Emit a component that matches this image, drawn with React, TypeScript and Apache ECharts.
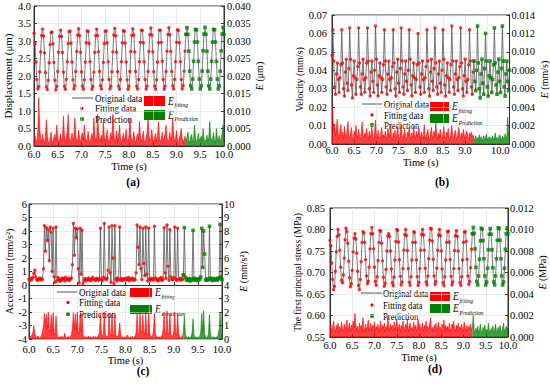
import { useEffect, useRef } from 'react';
import * as echarts from 'echarts';

const T0 = 6.0;
const STEP = 0.02;
const SPLIT_T = 9.2;

const DISPLACEMENT = [
  3.22, 2.93, 2.40, 1.90, 1.63, 1.70, 2.12, 2.69, 3.16, 3.34, 3.14, 2.66, 2.10, 1.69, 1.61, 1.88, 2.38, 2.90, 3.24,
  3.26, 2.92, 2.39, 1.88, 1.60, 1.70, 2.13, 2.68, 3.14, 3.31, 3.13, 2.67, 2.11, 1.70, 1.62, 1.90, 2.41, 2.93, 3.27,
  3.28, 2.94, 2.40, 1.89, 1.63, 1.72, 2.13, 2.70, 3.17, 3.35, 3.15, 2.68, 2.12, 1.71, 1.62, 1.89, 2.40, 2.95, 3.29,
  3.27, 2.93, 2.41, 1.90, 1.62, 1.70, 2.11, 2.67, 3.15, 3.34, 3.16, 2.69, 2.13, 1.72, 1.63, 1.89, 2.39, 2.93, 3.28,
  3.29, 2.95, 2.41, 1.90, 1.63, 1.71, 2.12, 2.69, 3.17, 3.36, 3.15, 2.68, 2.12, 1.71, 1.62, 1.90, 2.41, 2.95, 3.30,
  3.28, 2.94, 2.40, 1.89, 1.62, 1.71, 2.13, 2.70, 3.16, 3.35, 3.17, 2.69, 2.13, 1.71, 1.63, 1.90, 2.41, 2.96, 3.31,
  3.30, 2.95, 2.41, 1.90, 1.63, 1.71, 2.13, 2.70, 3.18, 3.37, 3.17, 2.69, 2.12, 1.71, 1.62, 1.89, 2.40, 2.95, 3.31,
  3.31, 2.96, 2.42, 1.90, 1.62, 1.71, 2.13, 2.71, 3.19, 3.38, 3.18, 2.70, 2.13, 1.72, 1.63, 1.90, 2.41, 2.96, 3.32,
  3.30, 2.95, 2.41, 1.90, 1.63, 1.72, 2.14, 2.71, 3.19, 3.38, 3.19, 2.71, 2.14, 1.72, 1.63, 1.91, 2.42, 2.97, 3.33,
  3.32, 2.97, 2.42, 1.91, 1.63, 1.72, 2.14, 2.72, 3.20, 3.39, 3.19, 2.71, 2.14, 1.72, 1.63, 1.91, 2.42, 2.97, 3.33,
  3.32, 2.97, 2.42, 1.91, 1.63, 1.72, 2.14, 2.72, 3.20, 3.39, 3.19,
];

const E_DISPLACEMENT = [
  0.0012, 0.0030, 0.0018, 0.0009, 0.0041, 0.0138, 0.0052, 0.0021, 0.0011, 0.0034, 0.0015, 0.0008, 0.0027, 0.0075, 0.0031, 0.0012, 0.0006, 0.0022, 0.0040, 0.0014,
  0.0009, 0.0025, 0.0033, 0.0016, 0.0060, 0.0023, 0.0010, 0.0019, 0.0035, 0.0012, 0.0028, 0.0085, 0.0030, 0.0011, 0.0024, 0.0043, 0.0090, 0.0026, 0.0013, 0.0021,
  0.0037, 0.0015, 0.0029, 0.0080, 0.0032, 0.0010, 0.0018, 0.0045, 0.0022, 0.0009, 0.0027, 0.0038, 0.0016, 0.0060, 0.0025, 0.0011, 0.0020, 0.0042, 0.0017, 0.0008,
  0.0024, 0.0036, 0.0015, 0.0080, 0.0033, 0.0012, 0.0026, 0.0090, 0.0041, 0.0014, 0.0019, 0.0031, 0.0010, 0.0070, 0.0028, 0.0013, 0.0022, 0.0046, 0.0018, 0.0009,
  0.0025, 0.0039, 0.0016, 0.0090, 0.0034, 0.0012, 0.0021, 0.0044, 0.0015, 0.0027, 0.0060, 0.0023, 0.0010, 0.0018, 0.0037, 0.0014, 0.0026, 0.0048, 0.0019, 0.0011,
  0.0030, 0.0080, 0.0027, 0.0013, 0.0020, 0.0041, 0.0016, 0.0009, 0.0024, 0.0035, 0.0018, 0.0070, 0.0029, 0.0012, 0.0021, 0.0043, 0.0015, 0.0010, 0.0026, 0.0038,
  0.0080, 0.0031, 0.0014, 0.0022, 0.0047, 0.0017, 0.0010, 0.0025, 0.0036, 0.0013, 0.0028, 0.0070, 0.0026, 0.0011, 0.0019, 0.0040, 0.0016, 0.0023, 0.0035, 0.0060,
  0.0024, 0.0012, 0.0018, 0.0039, 0.0015, 0.0027, 0.0080, 0.0030, 0.0013, 0.0021, 0.0044, 0.0017, 0.0009, 0.0023, 0.0032, 0.0050, 0.0020, 0.0011, 0.0018, 0.0028,
  0.0014, 0.0022, 0.0040, 0.0016, 0.0010, 0.0025, 0.0033, 0.0012, 0.0019, 0.0060, 0.0024, 0.0011, 0.0017, 0.0036, 0.0014, 0.0021, 0.0028, 0.0013, 0.0050, 0.0020,
  0.0010, 0.0018, 0.0031, 0.0015, 0.0024, 0.0070, 0.0027, 0.0012, 0.0020, 0.0038, 0.0014, 0.0009, 0.0050, 0.0022, 0.0016, 0.0029, 0.0013, 0.0019, 0.0034, 0.0060,
  0.0021,
];

const VELOCITY = [
  0.048, 0.062,
  0.045, 0.031, 0.027, 0.038, 0.044, 0.035, 0.028, 0.036, 0.043, 0.062,
  0.044, 0.030, 0.026, 0.039, 0.046, 0.033, 0.029, 0.041, 0.063,
  0.046, 0.032, 0.025, 0.037, 0.045, 0.036, 0.027, 0.035, 0.042, 0.063,
  0.044, 0.031, 0.027, 0.038, 0.046, 0.035, 0.028, 0.036, 0.044, 0.063,
  0.045, 0.030, 0.026, 0.039, 0.045, 0.034, 0.028, 0.040, 0.064,
  0.046, 0.032, 0.026, 0.037, 0.044, 0.036, 0.028, 0.035, 0.043, 0.062,
  0.045, 0.031, 0.027, 0.038, 0.045, 0.035, 0.029, 0.036, 0.042, 0.062,
  0.044, 0.030, 0.026, 0.039, 0.046, 0.033, 0.028, 0.041, 0.063,
  0.045, 0.031, 0.027, 0.038, 0.045, 0.034, 0.029, 0.040, 0.062,
  0.046, 0.032, 0.026, 0.037, 0.044, 0.036, 0.028, 0.035, 0.043, 0.060,
  0.044, 0.031, 0.027, 0.038, 0.045, 0.035, 0.028, 0.036, 0.042, 0.062,
  0.045, 0.030, 0.026, 0.039, 0.046, 0.034, 0.029, 0.041, 0.063,
  0.044, 0.031, 0.027, 0.038, 0.045, 0.033, 0.028, 0.040, 0.062,
  0.046, 0.032, 0.026, 0.037, 0.044, 0.036, 0.028, 0.035, 0.043, 0.064,
  0.045, 0.031, 0.027, 0.038, 0.045, 0.035, 0.029, 0.036, 0.042, 0.063,
  0.044, 0.030, 0.026, 0.037, 0.046, 0.034, 0.028, 0.035, 0.043, 0.062,
  0.045, 0.031, 0.027, 0.039, 0.045, 0.034, 0.029, 0.040, 0.064,
  0.044, 0.030, 0.025, 0.038, 0.046, 0.033, 0.027, 0.041, 0.060,
  0.045, 0.031, 0.026, 0.037, 0.045, 0.036, 0.028, 0.035, 0.043, 0.063,
  0.044, 0.032, 0.027, 0.039, 0.046, 0.034, 0.028, 0.041, 0.064,
  0.045, 0.031, 0.026, 0.038, 0.045, 0.034, 0.029, 0.040,
];

const E_VELOCITY = [
  0.0045, 0.0032, 0.0014, 0.0022, 0.0009, 0.0018, 0.0027, 0.0011, 0.0006, 0.0015, 0.0021, 0.0008, 0.0013, 0.0005, 0.0019, 0.0010, 0.0007, 0.0016, 0.0024, 0.0009,
  0.0006, 0.0012, 0.0018, 0.0007, 0.0004, 0.0014, 0.0009, 0.0020, 0.0011, 0.0006, 0.0016, 0.0008, 0.0005, 0.0013, 0.0024, 0.0010, 0.0006, 0.0012, 0.0008, 0.0017,
  0.0009, 0.0005, 0.0014, 0.0007, 0.0011, 0.0019, 0.0008, 0.0004, 0.0013, 0.0026, 0.0010, 0.0006, 0.0015, 0.0008, 0.0005, 0.0012, 0.0018, 0.0007, 0.0010, 0.0006,
  0.0014, 0.0009, 0.0005, 0.0017, 0.0011, 0.0007, 0.0022, 0.0009, 0.0004, 0.0012, 0.0008, 0.0015, 0.0006, 0.0010, 0.0019, 0.0008, 0.0005, 0.0013, 0.0021, 0.0009,
  0.0006, 0.0011, 0.0016, 0.0007, 0.0004, 0.0013, 0.0009, 0.0018, 0.0010, 0.0005, 0.0012, 0.0007, 0.0020, 0.0009, 0.0006, 0.0014, 0.0008, 0.0011, 0.0017, 0.0006,
  0.0009, 0.0013, 0.0005, 0.0010, 0.0021, 0.0008, 0.0006, 0.0012, 0.0016, 0.0007, 0.0004, 0.0011, 0.0018, 0.0009, 0.0006, 0.0014, 0.0008, 0.0023, 0.0010, 0.0005,
  0.0012, 0.0007, 0.0016, 0.0009, 0.0005, 0.0011, 0.0019, 0.0008, 0.0006, 0.0013, 0.0010, 0.0017, 0.0007, 0.0004, 0.0012, 0.0020, 0.0009, 0.0006, 0.0011, 0.0015,
  0.0008, 0.0005, 0.0013, 0.0018, 0.0009, 0.0006, 0.0012, 0.0007, 0.0016, 0.0010, 0.0005, 0.0011, 0.0014, 0.0008, 0.0006, 0.0012, 0.0009, 0.0013, 0.0007, 0.0010,
  0.0004, 0.0006, 0.0009, 0.0003, 0.0007, 0.0005, 0.0010, 0.0004, 0.0008, 0.0006, 0.0003, 0.0009, 0.0005, 0.0007, 0.0011, 0.0004, 0.0006, 0.0008, 0.0003, 0.0007,
  0.0005, 0.0009, 0.0004, 0.0006, 0.0012, 0.0005, 0.0007, 0.0003, 0.0008, 0.0010, 0.0006, 0.0004, 0.0009, 0.0007, 0.0005, 0.0011, 0.0008, 0.0006, 0.0029, 0.0012,
  0.0007,
];

const ACCELERATION = [
  0.42, 0.35, 0.50, 0.38, 0.55, 0.85, 1.10, 0.60, 0.40, 0.33, 0.45, 0.52, 0.36, 0.48, 0.40, 1.20, 4.40, 2.50, 4.25, 3.30,
  4.10, 1.80, 4.30, 3.90, 1.00, 4.20, 0.60, 0.20, 4.30, 0.30, 0.55, 0.40, 0.28, 0.47, 0.35, 0.52, 0.44, 0.30, 0.58, 0.41,
  0.38, 0.50, 0.33, 0.45, 0.52, 1.50, 4.55, 2.20, 4.20, 3.50, 4.15, 1.20, 0.15, 4.20, 0.80, 4.05, 0.10, 0.35, 0.48, 0.30,
  0.45, 0.36, 0.52, 0.40, 0.31, 0.47, 0.55, 0.38, 0.43, 0.33, 0.50, 0.41, 0.36, 0.48, 4.20, 0.40, 0.32, 0.55, 4.55, 0.45,
  0.38, 0.50, 1.10, 4.30, 0.90, 0.20, 4.40, 2.00, 0.10, 4.40, 0.45, 0.30, 0.52, 0.40, 4.30, 0.35, 0.48, 0.33, 0.44, 0.39,
  0.50, 0.36, 0.42, 0.55, 0.31, 0.46, 0.40, 0.52, 0.35, 0.44, 0.38, 0.90, 4.45, 2.80, 1.50, 4.30, 1.20, 0.40, 4.20, 1.60,
  0.70, 4.30, 0.80, 0.30, 4.20, 0.45, 0.35, 0.50, 0.41, 0.38, 4.35, 0.52, 0.36, 0.44, 0.30, 0.47, 0.40, 0.55, 0.33, 0.42,
  4.25, 0.90, 0.50, 4.45, 1.40, 0.35, 4.10, 0.60, 0.42, 0.38, 0.55, 4.30, 0.45, 0.33, 4.20, 0.40, 0.48, 0.36, 0.51, 0.39,
  0.75, 4.25, 0.55, 0.40, 0.35, 0.48, 0.42, 0.30, 0.45, 0.38, 4.05, 0.50, 0.36, 0.44, 0.40, 0.33, 0.47, 0.41, 0.60, 4.20,
  1.30, 4.00, 2.30, 0.40, 0.35, 0.46, 0.38, 4.35, 0.50, 0.42, 0.33, 0.48, 0.37, 0.44, 0.40, 0.36, 0.52, 0.45, 4.50, 0.60,
  0.40,
];

const E_ACCELERATION = [
  0.12, 0.20, 0.15, 0.30, 0.45, 1.00, 0.40, 0.18, 0.10, 0.22, 0.14, 0.08, 0.16, 0.25, 0.60, 0.90, 1.90, 1.20, 1.85, 0.70,
  2.00, 0.80, 0.50, 1.80, 0.60, 1.95, 0.45, 0.30, 1.70, 0.35, 0.15, 0.10, 0.18, 0.12, 0.22, 0.09, 0.14, 0.42, 0.16, 0.11,
  0.13, 0.20, 0.10, 0.17, 0.35, 0.80, 1.95, 0.70, 1.85, 0.60, 2.00, 0.55, 0.40, 1.80, 0.50, 1.90, 0.30, 0.15, 0.12, 0.19,
  0.10, 0.14, 0.22, 0.11, 0.16, 0.09, 0.13, 0.20, 0.12, 0.18, 0.10, 0.15, 0.25, 0.50, 1.80, 0.40, 0.20, 0.35, 2.00, 0.45,
  0.18, 0.12, 0.30, 1.90, 0.40, 0.22, 1.85, 0.35, 0.18, 1.80, 0.30, 0.14, 0.20, 0.45, 1.20, 0.30, 0.12, 0.17, 0.10, 0.15,
  0.11, 0.18, 0.30, 0.13, 0.09, 0.16, 0.12, 0.20, 0.10, 0.14, 0.22, 0.50, 1.85, 0.40, 0.35, 1.95, 0.60, 0.45, 1.80, 0.50,
  0.35, 2.00, 0.40, 0.30, 1.85, 0.45, 0.20, 0.15, 0.25, 0.60, 1.90, 0.35, 0.14, 0.18, 0.11, 0.16, 0.12, 0.20, 0.30, 0.70,
  1.95, 0.50, 0.40, 2.10, 0.45, 0.35, 1.90, 0.40, 0.18, 0.25, 0.55, 2.00, 0.45, 0.30, 1.85, 0.40, 0.15, 0.12, 0.18, 0.10,
  0.60, 1.70, 0.35, 0.15, 0.10, 0.18, 0.12, 0.09, 0.20, 0.45, 1.50, 0.30, 0.14, 0.11, 0.16, 0.10, 0.13, 0.20, 0.55, 1.90,
  0.50, 2.10, 0.40, 0.15, 0.12, 0.18, 0.40, 1.80, 0.35, 0.14, 0.10, 0.16, 0.12, 0.09, 0.15, 0.11, 0.30, 0.70, 1.90, 0.40,
  0.15,
];

const STRESS = [
  0.775, 0.762, 0.722, 0.684, 0.660, 0.668, 0.703, 0.748, 0.784, 0.800, 0.788, 0.752, 0.712, 0.682, 0.676, 0.694, 0.733, 0.776, 0.803,
  0.795, 0.768, 0.726, 0.688, 0.667, 0.674, 0.705, 0.748, 0.780, 0.790, 0.778, 0.745, 0.703, 0.670, 0.660, 0.684, 0.725, 0.770, 0.795,
  0.792, 0.770, 0.730, 0.692, 0.674, 0.680, 0.712, 0.755, 0.790, 0.805, 0.790, 0.755, 0.712, 0.679, 0.670, 0.690, 0.728, 0.770, 0.798,
  0.796, 0.768, 0.727, 0.689, 0.668, 0.675, 0.707, 0.750, 0.785, 0.790, 0.784, 0.750, 0.708, 0.676, 0.669, 0.689, 0.729, 0.772, 0.800,
  0.798, 0.771, 0.730, 0.691, 0.671, 0.678, 0.709, 0.752, 0.788, 0.800, 0.786, 0.751, 0.709, 0.677, 0.670, 0.690, 0.729, 0.770, 0.795,
  0.793, 0.770, 0.729, 0.690, 0.670, 0.677, 0.709, 0.752, 0.789, 0.800, 0.787, 0.752, 0.710, 0.678, 0.671, 0.692, 0.732, 0.775, 0.803,
  0.801, 0.773, 0.731, 0.692, 0.672, 0.679, 0.710, 0.752, 0.787, 0.800, 0.786, 0.750, 0.708, 0.676, 0.669, 0.690, 0.729, 0.770, 0.795,
  0.796, 0.771, 0.730, 0.691, 0.671, 0.678, 0.709, 0.751, 0.786, 0.797, 0.784, 0.750, 0.709, 0.677, 0.670, 0.690, 0.729, 0.770, 0.794,
  0.795, 0.772, 0.731, 0.692, 0.672, 0.679, 0.711, 0.754, 0.790, 0.805, 0.791, 0.755, 0.712, 0.679, 0.671, 0.692, 0.731, 0.774, 0.803,
  0.801, 0.774, 0.732, 0.692, 0.671, 0.678, 0.710, 0.753, 0.789, 0.802, 0.789, 0.753, 0.711, 0.678, 0.671, 0.692, 0.732, 0.775, 0.804,
  0.802, 0.775, 0.732, 0.692, 0.671, 0.678, 0.710, 0.754, 0.790, 0.804, 0.790,
];

const E_STRESS = [
  0.0006, 0.0012, 0.0004, 0.0009, 0.0015, 0.0007, 0.0005, 0.0011, 0.0008, 0.0013, 0.0004, 0.0010, 0.0006, 0.0014, 0.0008, 0.0005, 0.0012, 0.0007, 0.0010, 0.0016,
  0.0006, 0.0009, 0.0013, 0.0005, 0.0011, 0.0007, 0.0015, 0.0009, 0.0022, 0.0012, 0.0006, 0.0010, 0.0004, 0.0013, 0.0008, 0.0011, 0.0006, 0.0018, 0.0009, 0.0005,
  0.0012, 0.0007, 0.0010, 0.0016, 0.0006, 0.0009, 0.0013, 0.0005, 0.0011, 0.0008, 0.0014, 0.0006, 0.0010, 0.0007, 0.0012, 0.0004, 0.0009, 0.0015, 0.0006, 0.0011,
  0.0008, 0.0013, 0.0005, 0.0010, 0.0007, 0.0020, 0.0009, 0.0006, 0.0012, 0.0008, 0.0011, 0.0005, 0.0014, 0.0007, 0.0010, 0.0016, 0.0006, 0.0009, 0.0012, 0.0005,
  0.0011, 0.0007, 0.0015, 0.0009, 0.0006, 0.0012, 0.0008, 0.0017, 0.0005, 0.0010, 0.0013, 0.0007, 0.0009, 0.0006, 0.0014, 0.0008, 0.0011, 0.0005, 0.0010, 0.0016,
  0.0007, 0.0012, 0.0006, 0.0009, 0.0013, 0.0005, 0.0011, 0.0008, 0.0015, 0.0006, 0.0010, 0.0007, 0.0012, 0.0018, 0.0006, 0.0009, 0.0005, 0.0011, 0.0008, 0.0013,
  0.0006, 0.0010, 0.0014, 0.0007, 0.0009, 0.0005, 0.0012, 0.0008, 0.0016, 0.0006, 0.0011, 0.0007, 0.0010, 0.0005, 0.0013, 0.0008, 0.0006, 0.0012, 0.0009, 0.0015,
  0.0007, 0.0005, 0.0011, 0.0008, 0.0013, 0.0006, 0.0010, 0.0007, 0.0012, 0.0005, 0.0009, 0.0014, 0.0006, 0.0008, 0.0011, 0.0005, 0.0010, 0.0007, 0.0012, 0.0006,
  0.0009, 0.0020, 0.0006, 0.0004, 0.0008, 0.0005, 0.0010, 0.0003, 0.0007, 0.0012, 0.0005, 0.0004, 0.0009, 0.0006, 0.0011, 0.0004, 0.0007, 0.0005, 0.0013, 0.0006,
  0.0004, 0.0008, 0.0005, 0.0010, 0.0003, 0.0007, 0.0012, 0.0005, 0.0006, 0.0009, 0.0004, 0.0011, 0.0006, 0.0005, 0.0008, 0.0013, 0.0004, 0.0007, 0.0010, 0.0006,
  0.0009,
];

const LEGEND_LABELS = ['Original data', 'Fitting data', 'Prediction'];
const E_SUBSCRIPTS = ['fitting', 'Prediction'];
const PANEL_TAGS = ['(a)', '(b)', '(c)', '(d)'];
const X_NAME = 'Time (s)';
const Y_NAMES = ['Displacement (μm)', 'Velocity (mm/s)', 'Acceleration (mm/s²)', 'The first principal stress (MPa)'];
const E_UNITS = ['(μm)', '(mm/s)', '(mm/s²)', '(MPa)'];

const FONT = 'Liberation Serif';
const RED = '#ff0000';
const GREEN = '#008000';
const GREY = '#555555';
const SQUEEZE = 0.82;

type Panel = {
  values: number[];
  errors: number[];
  y: [number, number, number, number];
  e: [number, number, number, number];
  smooth: boolean;
  grid: { left: number; top: number; width: number; height: number };
  yNameGap: number; yNameSize: number; eNameGap: number; eNameSize: number;
  xLabelMargin: number; xNameGap: number; yLabelMargin: number; eLabelMargin: number; alignMax: boolean;
  lg: { lx1: number; lx2: number; mx: number; tx: number; fs: number; rows: number[]; rx: number; rw: number; rh: number; ry: number[]; etx: number };
  tag: [number, number];
};

const PANELS: Panel[] = [
  {
    values: DISPLACEMENT, errors: E_DISPLACEMENT, y: [0, 4, 0.5, 1], e: [0, 0.04, 0.005, 3], smooth: true,
    grid: { left: 34, top: 6, width: 190, height: 140 },
    yNameGap: 16, yNameSize: 11, eNameGap: 28, eNameSize: 10,
    xLabelMargin: 3, xNameGap: 12, yLabelMargin: 3, eLabelMargin: 3, alignMax: false,
    lg: { lx1: 72, lx2: 93, mx: 82, tx: 95, fs: 11, rows: [98, 108.5, 119], rx: 144, rw: 21, rh: 10, ry: [96, 110], etx: 168 },
    tag: [133, 182],
  },
  {
    values: VELOCITY, errors: E_VELOCITY, y: [0, 0.07, 0.01, 2], e: [0, 0.014, 0.002, 3], smooth: false,
    grid: { left: 332, top: 15, width: 179, height: 129 },
    yNameGap: 19, yNameSize: 10, eNameGap: 25, eNameSize: 10,
    xLabelMargin: 1, xNameGap: 9, yLabelMargin: 5, eLabelMargin: 2, alignMax: true,
    lg: { lx1: 362, lx2: 382, mx: 372, tx: 384, fs: 10.5, rows: [104, 115, 125], rx: 430, rw: 19, rh: 9, ry: [102, 114], etx: 452 },
    tag: [442, 182],
  },
  {
    values: ACCELERATION, errors: E_ACCELERATION, y: [-4, 6, 1, 0], e: [0, 10, 1, 0], smooth: false,
    grid: { left: 29, top: 204, width: 193, height: 135 },
    yNameGap: 10, yNameSize: 10, eNameGap: 10, eNameSize: 10,
    xLabelMargin: 4.5, xNameGap: 10.5, yLabelMargin: 2, eLabelMargin: 2, alignMax: false,
    lg: { lx1: 57, lx2: 77, mx: 68, tx: 79, fs: 11, rows: [292, 302.5, 314], rx: 130, rw: 22, rh: 9, ry: [288, 305], etx: 155 },
    tag: [143, 371],
  },
  {
    values: STRESS, errors: E_STRESS, y: [0.55, 0.85, 0.05, 2], e: [0, 0.012, 0.002, 3], smooth: true,
    grid: { left: 330, top: 208, width: 178, height: 129 },
    yNameGap: 18, yNameSize: 9.5, eNameGap: 20, eNameSize: 10,
    xLabelMargin: 3, xNameGap: 11, yLabelMargin: 5, eLabelMargin: 2, alignMax: false,
    lg: { lx1: 361, lx2: 382, mx: 372, tx: 383, fs: 10.5, rows: [293, 305, 316], rx: 430, rw: 20, rh: 9, ry: [292, 304], etx: 453 },
    tag: [435, 369],
  },
];

function toPoints(vals: number[]): number[][] {
  return vals.map((v, i) => [Math.round((T0 + i * STEP) * 100) / 100, v]);
}

function buildOption() {
  const grid: any[] = [];
  const xAxis: any[] = [];
  const yAxis: any[] = [];
  const series: any[] = [];
  const graphic: any[] = [];

  PANELS.forEach((p, i) => {
    grid.push({ ...p.grid, show: true, borderColor: '#333', borderWidth: 1, backgroundColor: 'transparent' });
    xAxis.push({
      type: 'value', gridIndex: i, min: 6, max: 10, interval: 0.5,
      name: X_NAME, nameLocation: 'middle', nameGap: p.xNameGap,
      nameTextStyle: { fontFamily: FONT, fontSize: 10.5, color: '#000' },
      axisLine: { show: true, lineStyle: { color: '#333', width: 1 } },
      axisTick: { show: true, inside: true, length: 3, lineStyle: { color: '#333' } },
      axisLabel: {
        fontFamily: FONT, fontSize: 10.5, color: '#000', margin: p.xLabelMargin, showMinLabel: true, showMaxLabel: true,
        alignMaxLabel: p.alignMax ? 'right' : undefined,
        formatter: (v: number) => v.toFixed(1),
      },
      splitLine: { show: true, lineStyle: { color: '#dddddd', width: 0.6 } },
    });
    yAxis.push({
      type: 'value', gridIndex: i, position: 'left', min: p.y[0], max: p.y[1], interval: p.y[2],
      name: Y_NAMES[i], nameLocation: 'middle', nameGap: p.yNameGap,
      nameTextStyle: { fontFamily: FONT, fontSize: p.yNameSize, color: '#000' },
      axisLine: { show: true, lineStyle: { color: '#333', width: 1 } },
      axisTick: { show: true, inside: true, length: 3, lineStyle: { color: '#333' } },
      axisLabel: { fontFamily: FONT, fontSize: 10.5, color: '#000', margin: p.yLabelMargin, showMinLabel: true, showMaxLabel: true, formatter: (v: number) => v.toFixed(p.y[3]) },
      splitLine: { show: true, lineStyle: { color: '#dddddd', width: 0.6 } },
    });
    yAxis.push({
      type: 'value', gridIndex: i, position: 'right', min: p.e[0], max: p.e[1], interval: p.e[2],
      name: '{i|E} ' + E_UNITS[i], nameLocation: 'middle', nameGap: p.eNameGap,
      nameTextStyle: { fontFamily: FONT, fontSize: p.eNameSize, color: '#000', rich: { i: { fontFamily: FONT, fontSize: p.eNameSize, fontStyle: 'italic', color: '#000' } } },
      axisLine: { show: true, lineStyle: { color: '#333', width: 1 } },
      axisTick: { show: true, inside: true, length: 3, lineStyle: { color: '#333' } },
      axisLabel: { fontFamily: FONT, fontSize: 10.5, color: '#000', margin: p.eLabelMargin, showMinLabel: true, showMaxLabel: true, formatter: (v: number) => v.toFixed(p.e[3]) },
      splitLine: { show: false },
    });

    const pts = toPoints(p.values);
    const errs = toPoints(p.errors);
    const isFit = (q: number[]) => q[0] <= SPLIT_T + 1e-9;
    const isPred = (q: number[]) => q[0] >= SPLIT_T - 1e-9;

    series.push({
      type: 'line', name: 'E_fitting', xAxisIndex: i, yAxisIndex: 2 * i + 1, data: errs.filter(isFit),
      showSymbol: false, silent: true, z: 1,
      lineStyle: { color: RED, width: 0.6 }, areaStyle: { color: RED, opacity: 0.75 },
    });
    series.push({
      type: 'line', name: 'E_Prediction', xAxisIndex: i, yAxisIndex: 2 * i + 1, data: errs.filter(isPred),
      showSymbol: false, silent: true, z: 1,
      lineStyle: { color: GREEN, width: 0.6 }, areaStyle: { color: GREEN, opacity: 0.75 },
    });
    series.push({
      type: 'line', name: 'Original data', xAxisIndex: i, yAxisIndex: 2 * i, data: pts,
      showSymbol: false, silent: true, z: 2, smooth: p.smooth ? 0.4 : false,
      lineStyle: { color: GREY, width: 0.8 },
    });
    series.push({
      type: 'scatter', name: 'Fitting data', xAxisIndex: i, yAxisIndex: 2 * i, data: pts.filter(isFit),
      symbol: 'circle', symbolSize: 3.4, silent: true, z: 3, itemStyle: { color: RED },
    });
    series.push({
      type: 'scatter', name: 'Prediction', xAxisIndex: i, yAxisIndex: 2 * i, data: pts.filter(isPred),
      symbol: 'rect', symbolSize: 3.6, silent: true, z: 3, itemStyle: { color: GREEN },
    });

    const L = p.lg;
    graphic.push({ type: 'line', shape: { x1: L.lx1, y1: L.rows[0], x2: L.lx2, y2: L.rows[0] }, style: { stroke: GREY, lineWidth: 1 } });
    graphic.push({ type: 'circle', shape: { cx: L.mx, cy: L.rows[1], r: 1.6 }, style: { fill: RED } });
    graphic.push({ type: 'rect', shape: { x: L.mx - 1.8, y: L.rows[2] - 1.8, width: 3.6, height: 3.6 }, style: { fill: GREEN } });
    LEGEND_LABELS.forEach((lab, j) => {
      graphic.push({ type: 'text', x: L.tx, y: L.rows[j], scaleX: SQUEEZE, style: { text: lab, fontFamily: FONT, fontSize: L.fs, fill: '#000', verticalAlign: 'middle', align: 'left' } });
    });
    [RED, GREEN].forEach((c, j) => {
      graphic.push({ type: 'rect', shape: { x: L.rx, y: L.ry[j], width: L.rw, height: L.rh }, style: { fill: c } });
      const cy = L.ry[j] + L.rh / 2;
      graphic.push({ type: 'text', x: L.etx, y: cy, scaleX: SQUEEZE, style: { text: 'E', fontFamily: FONT, fontSize: 11.5, fontStyle: 'italic', fill: '#000', verticalAlign: 'middle', align: 'left' } });
      graphic.push({ type: 'text', x: L.etx + 6.5, y: cy + 3.5, scaleX: SQUEEZE, style: { text: E_SUBSCRIPTS[j], fontFamily: FONT, fontSize: 7, fontStyle: 'italic', fill: '#000', verticalAlign: 'middle', align: 'left' } });
    });
    graphic.push({ type: 'text', x: p.tag[0], y: p.tag[1], style: { text: PANEL_TAGS[i], fontFamily: FONT, fontSize: 11.5, fontWeight: 'bold', fill: '#000', verticalAlign: 'middle', align: 'center' } });
  });

  return {
    animation: false,
    backgroundColor: '#ffffff',
    textStyle: { fontFamily: FONT },
    grid, xAxis, yAxis, series, graphic,
  };
}

export default function App() {
  const ref = useRef<HTMLDivElement>(null);
  useEffect(() => {
    if (!ref.current) return;
    const chart = echarts.init(ref.current, null, { renderer: 'svg' });
    chart.setOption(buildOption() as any);
    return () => chart.dispose();
  }, []);
  return <div ref={ref} style={{ position: 'absolute', left: 0, top: 0, width: 550, height: 386 }} />;
}
